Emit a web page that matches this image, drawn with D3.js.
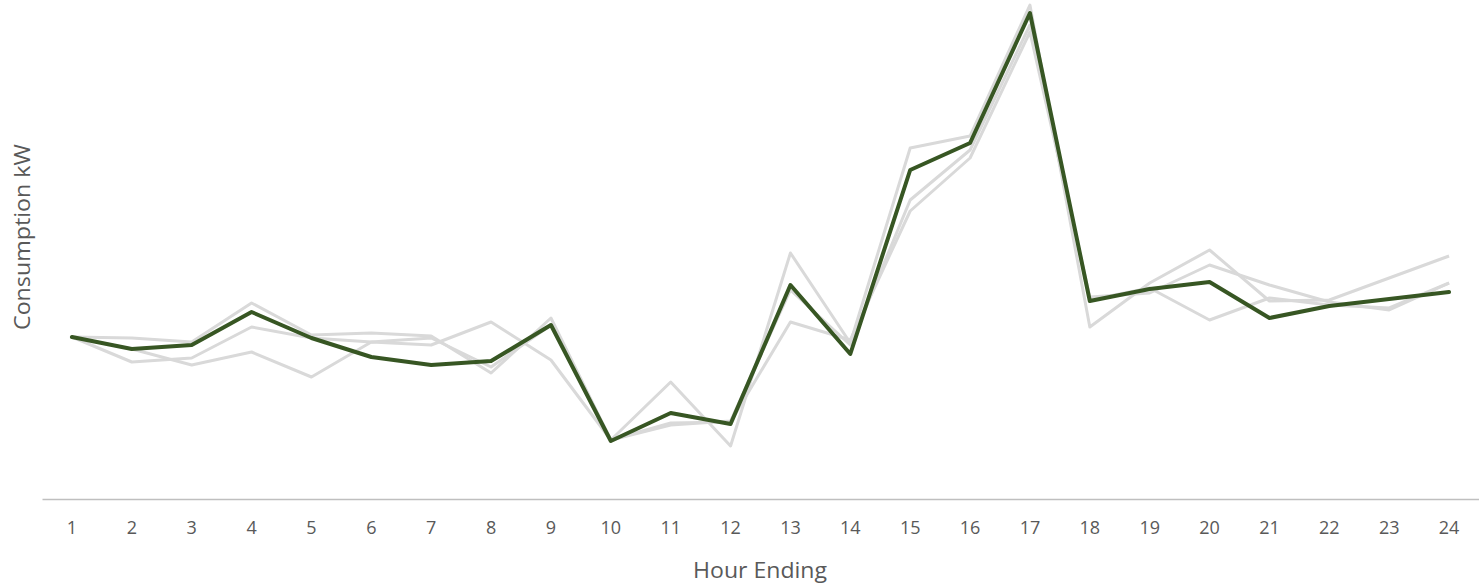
<!DOCTYPE html>
<html>
<head>
<meta charset="utf-8">
<script src="https://cdn.jsdelivr.net/npm/d3@7"></script>
<style>
  html, body { margin: 0; padding: 0; background: #fff; }
  svg { display: block; }
  text { font-family: "Open Sans", "Noto Sans", sans-serif; fill: #595959; }
</style>
</head>
<body>
<svg id="chart" width="1479" height="585"></svg>
<script>
const hours = d3.range(1, 25);
const tickLabels = hours.map(String);

// Highlighted day (green) and comparison days (grey), consumption kW
const highlight = [16.2, 15.0, 15.4, 18.7, 16.1, 14.2, 13.4, 13.8, 17.4, 5.8, 8.6, 7.5, 21.4, 14.5, 32.9, 35.6, 48.6, 19.8, 21.0, 21.7, 18.1, 19.3, 20.0, 20.7];
const compareA = [16.2, 16.1, 15.7, 19.6, 16.4, 16.6, 16.3, 12.6, 18.1, 5.9, 11.7, 5.3, 24.6, 15.6, 35.1, 36.3, 49.4, 17.2, 21.6, 24.9, 19.8, 19.9, 22.1, 24.3];
const compareB = [16.2, 13.7, 14.1, 17.2, 16.1, 15.7, 16.1, 13.2, 17.4, 5.9, 7.6, 7.7, 17.7, 15.9, 28.8, 34.1, 46.7, 20.2, 20.6, 23.4, 21.4, 19.7, 18.9, 21.6];
const compareC = [16.2, 15.0, 13.4, 14.7, 12.2, 15.7, 15.4, 17.7, 13.9, 5.9, 7.4, 7.8, 20.9, 15.4, 29.9, 34.9, 47.4, 19.9, 21.1, 17.9, 20.1, 19.4, 19.1, 21.6];

const svg = d3.select("#chart");
const W = 1479, H = 585;
const margin = { left: 42, right: 0, top: 5, bottom: 86 };

const x = d3.scaleBand().domain(hours).range([margin.left, W - margin.right]);
const y = d3.scaleLinear().domain([0, 49.4]).range([H - margin.bottom, margin.top]);
const cx = d => x(d) + x.bandwidth() / 2;

// x axis
const xAxis = d3.axisBottom(x).tickSize(0).tickPadding(22).tickFormat((d, i) => tickLabels[i]);
const gx = svg.append("g").attr("transform", `translate(0,${H - margin.bottom})`).call(xAxis);
gx.select(".domain").attr("stroke", "#bfbfbf").attr("stroke-width", 1.5);
gx.selectAll("text").attr("font-size", 18).attr("fill", "#595959")
  .style("font-family", '"Open Sans", "Noto Sans", sans-serif');

const line = d3.line().x((d, i) => cx(hours[i])).y(d => y(d));

[compareA, compareB, compareC].forEach(s => {
  svg.append("path").datum(s).attr("d", line)
    .attr("fill", "none").attr("stroke", "#d9d9d9").attr("stroke-width", 3)
    .attr("stroke-linejoin", "round");
});

svg.append("path").datum(highlight).attr("d", line)
  .attr("fill", "none").attr("stroke", "#375623").attr("stroke-width", 4)
  .attr("stroke-linejoin", "round").attr("stroke-linecap", "round");

// axis titles
svg.append("text").attr("x", 760).attr("y", 578).attr("text-anchor", "middle")
  .attr("font-size", 22).attr("textLength", 134).attr("lengthAdjust", "spacingAndGlyphs")
  .text("Hour Ending");
svg.append("text").attr("transform", "translate(30,237) rotate(-90)")
  .attr("text-anchor", "middle").attr("font-size", 22)
  .attr("textLength", 186).attr("lengthAdjust", "spacingAndGlyphs")
  .text("Consumption kW");
</script>
</body>
</html>
